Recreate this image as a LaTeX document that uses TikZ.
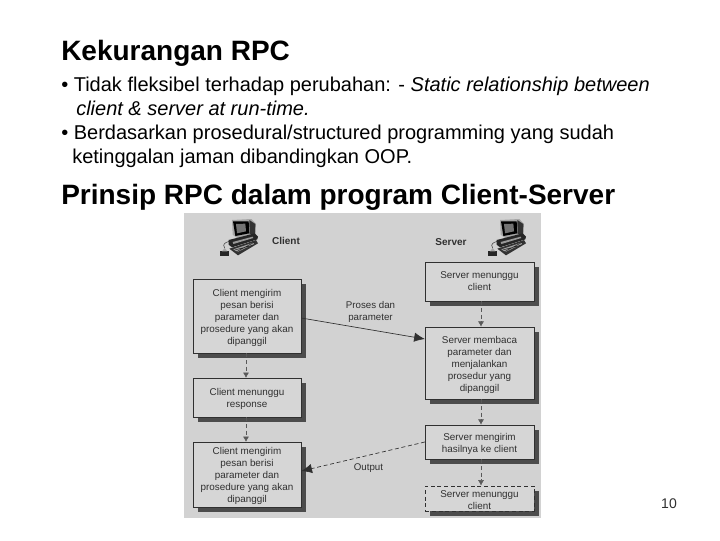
\documentclass[tikz,border=0pt]{standalone}
\usepackage{fontspec}
\setmainfont{Liberation Sans}
\usetikzlibrary{shadows,arrows.meta}
\definecolor{panel}{HTML}{D2D2D2}
\definecolor{boxfill}{HTML}{D6D6D6}
\definecolor{shade}{HTML}{4C4C4C}
\definecolor{ink}{HTML}{303030}
\newcommand{\firstlift}{\rule{0pt}{8pt}}
\tikzset{
  flowbox/.style={draw=ink,fill=boxfill,line width=0.5pt,align=center,inner sep=0pt,
    font=\fontsize{7.4}{9}\selectfont,text=ink,
    drop shadow={shadow xshift=3.75pt,shadow yshift=-3.75pt,fill=shade,opacity=1}},
  waitbox/.style={flowbox,densely dashed},
  line/.style={anchor=base west,inner sep=0pt,font=\fontsize{15}{17}\selectfont,text=black},
  heading/.style={anchor=base west,inner sep=0pt,font=\bfseries\fontsize{21}{23}\selectfont,text=black},
  small/.style={inner sep=0pt,align=center,font=\fontsize{7.3}{9}\selectfont,text=ink},
  tag/.style={inner sep=0pt,font=\bfseries\fontsize{7.5}{9}\selectfont,text=ink},
  seq/.style={densely dashed,draw=ink!80,line width=0.4pt,-{Latex[length=4pt,width=4.5pt]}},
  msg/.style={draw=ink,line width=0.5pt,-{Latex[length=8pt,width=7pt]}},
  pics/computer/.style={code={
    \begin{scope}[x=0.25pt,y=-0.25pt]
    % monitor
    \fill[black!35] (60,18) -- (118,15) -- (132,30) -- (130,62) -- (75,72) -- (62,62) -- cycle;
    \fill[black] (63,22) -- (110,22) -- (112,58) -- (70,66) -- cycle;
    \fill[black!55] (72,30) -- (100,29) -- (102,52) -- (75,58) -- cycle;
    \fill[black!80] (112,18) -- (130,30) -- (129,60) -- (113,60) -- cycle;
    % base unit
    \fill[black!85] (50,78) -- (128,58) -- (138,68) -- (136,76) -- (60,100) -- (50,92) -- cycle;
    \fill[black!40] (62,84) -- (122,68) -- (124,72) -- (64,90) -- cycle;
    % keyboard
    \fill[black!80] (52,104) -- (132,78) -- (138,88) -- (78,124) -- cycle;
    \fill[black!35] (64,106) -- (124,86) -- (126,90) -- (76,114) -- cycle;
    \draw[black!85,line width=0.4pt] (72,114) -- (128,84) (68,108) -- (122,94);
    % mouse
    \fill[black!85] (24,112) -- (50,112) -- (50,125) -- (24,125) -- cycle;
    \fill[black!35] (30,112) -- (38,102) -- (46,112) -- cycle;
    \draw[ink,line width=0.35pt] (38,102) .. controls (30,90) and (40,85) .. (52,82);
    \end{scope}
  }}
}
\begin{document}
\begin{tikzpicture}[x=0.75pt,y=-0.75pt]
\useasboundingbox (0,0) rectangle (720,540);
\fill[white] (0,0) rectangle (720,540);

\node[heading] (t1) at (61,60) {Kekurangan RPC};
\node[line] (l1) at (61,91) {• Tidak fleksibel terhadap perubahan: - \textit{Static relationship between}};
\node[line] (l2) at (76,115) {\textit{client \& server at run-time.}};
\node[line] (l3) at (61,139) {• Berdasarkan prosedural/structured programming yang sudah};
\node[line] (l4) at (72,163) {ketinggalan jaman dibandingkan OOP.};
\node[heading] (t2) at (61,204) {Prinsip RPC dalam program Client-Server};

\fill[panel] (184,213) rectangle (541,518);

\pic at (212,214) {computer};
\pic at (480,214) {computer};
\node[tag] (cl) at (286,241) {Client};
\node[tag] (sv) at (451,242.5) {Server};

\node[flowbox,minimum width=81pt,minimum height=55.5pt] (c1) at (247,316) {\firstlift Client mengirim\\pesan berisi\\parameter dan\\prosedure yang akan\\dipanggil};
\node[flowbox,minimum width=81pt,minimum height=29pt] (c2) at (247,397.5) {\firstlift Client menunggu\\response};
\node[flowbox,minimum width=81pt,minimum height=48.5pt] (c3) at (247,474.5) {\firstlift Client mengirim\\pesan berisi\\parameter dan\\prosedure yang akan\\dipanggil};

\node[flowbox,minimum width=81.5pt,minimum height=29pt] (s1) at (479.5,281.5) {Server menunggu\\client};
\node[flowbox,minimum width=81.5pt,minimum height=54pt] (s2) at (479.5,363) {\firstlift Server membaca\\parameter dan\\menjalankan\\prosedur yang\\dipanggil};
\node[flowbox,minimum width=81.5pt,minimum height=25.5pt] (s3) at (479.5,442) {\firstlift Server mengirim\\hasilnya ke client};
\node[waitbox,minimum width=81.5pt,minimum height=19pt] (s4) at (479.5,498.5) {\firstlift Server menunggu\\client};

\draw[seq] (c1.south -| 246,0) -- (c2.north -| 246,0);
\draw[seq] (c2.south -| 246,0) -- (c3.north -| 246,0);
\draw[seq] (s1.south -| 481,0) -- (s2.north -| 481,0);
\draw[seq] (s2.south -| 481,0) -- (s3.north -| 481,0);
\draw[seq] (s3.south -| 481,0) -- (s4.north -| 481,0);

\draw[msg] (c1.east |- 0,318) -- (s2.west |- 0,339);
\draw[msg,densely dashed] (s3.west |- 0,442) -- (c3.east |- 0,471);

\node[small] (p) at (370.5,312) {Proses dan\\parameter};
\node[small] (o) at (368.5,468) {Output};
\node[inner sep=0pt,font=\fontsize{10.5}{12}\selectfont,text=ink] (n) at (669,504) {10};
\end{tikzpicture}
\end{document}
